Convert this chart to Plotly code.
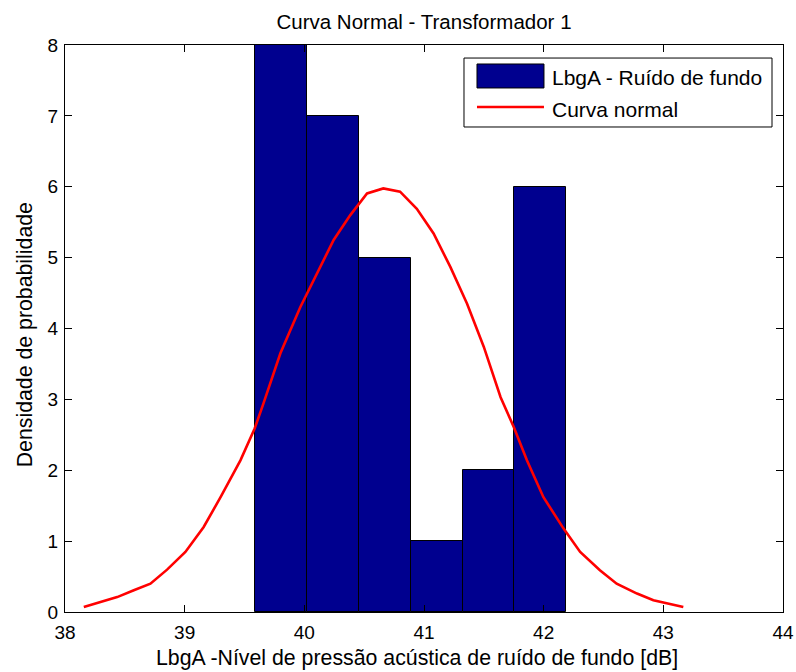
import plotly.graph_objects as go

# Histogram data (bin edges and counts)
bin_edges = [39.59, 40.025, 40.455, 40.89, 41.325, 41.755, 42.19]
counts = [8, 7, 5, 1, 2, 6]

# Normal curve points
curve_x = [38.157, 38.27, 38.436, 38.575, 38.714, 38.853, 39.006, 39.159, 39.30,
           39.466, 39.585, 39.66, 39.80, 39.966, 40.106, 40.245, 40.384, 40.524,
           40.66, 40.80, 40.94, 41.08, 41.22, 41.36, 41.50, 41.64, 41.75, 41.86,
           41.998, 42.165, 42.305, 42.47, 42.61, 42.78, 42.917, 43.056, 43.167]
curve_y = [0.07, 0.127, 0.21, 0.306, 0.40, 0.598, 0.847, 1.2, 1.62,
           2.14, 2.59, 2.95, 3.65, 4.30, 4.78, 5.25, 5.60, 5.905,
           5.976, 5.93, 5.69, 5.34, 4.87, 4.35, 3.74, 3.03, 2.61, 2.14,
           1.62, 1.18, 0.847, 0.589, 0.40, 0.26, 0.165, 0.118, 0.07]

title_text = "Curva Normal - Transformador 1"
x_label = "LbgA -Nível de pressão acústica de ruído de fundo [dB]"
y_label = "Densidade de probabilidade"
legend_labels = ["LbgA - Ruído de fundo", "Curva normal"]
x_ticks = [38, 39, 40, 41, 42, 43, 44]
y_ticks = [0, 1, 2, 3, 4, 5, 6, 7, 8]

bar_color = "#00008F"
line_color = "#FF0000"
FONT = "Arial, Liberation Sans, sans-serif"
TITLE = 20.5
LAB = 21.3
LEG = 21
TICK = 19

centers = [(bin_edges[i] + bin_edges[i + 1]) / 2 for i in range(len(counts))]
widths = [bin_edges[i + 1] - bin_edges[i] for i in range(len(counts))]

fig = go.Figure()
fig.add_trace(go.Bar(x=centers, y=counts, width=widths, name=legend_labels[0],
                     marker=dict(color=bar_color, line=dict(color="#000000", width=1)),
                     showlegend=False))
fig.add_trace(go.Scatter(x=curve_x, y=curve_y, mode="lines", name=legend_labels[1],
                         line=dict(color=line_color, width=2.6), showlegend=False))

axis_common = dict(showgrid=False, zeroline=False, showline=True, linecolor="#000000",
                   linewidth=1, mirror="ticks", ticks="inside", ticklen=7,
                   tickcolor="#000000", automargin=False,
                   tickfont=dict(family=FONT, size=TICK, color="#000000"))

fig.update_xaxes(range=[38, 44], tickvals=x_ticks, ticklabelstandoff=3, **axis_common)
fig.update_yaxes(range=[0, 8], tickvals=y_ticks, ticklabelstandoff=2, **axis_common)

# Manual MATLAB-style legend (paper coordinates)
L, R, T, B = 0.5557, 0.9847, 0.977, 0.8554
shapes = [
    dict(type="rect", xref="paper", yref="paper", x0=L, x1=R, y0=B, y1=T,
         line=dict(color="#000000", width=1), fillcolor="#FFFFFF", layer="above"),
    dict(type="rect", xref="paper", yref="paper", x0=0.5738, x1=0.6671, y0=0.9242, y1=0.9665,
         line=dict(color="#000000", width=1), fillcolor=bar_color, layer="above"),
    dict(type="line", xref="paper", yref="paper", x0=0.5738, x1=0.6671, y0=0.8907, y1=0.8907,
         line=dict(color=line_color, width=2.6), layer="above"),
]
annotations = [
    dict(xref="paper", yref="paper", x=0.676, y=0.942, text=legend_labels[0], showarrow=False,
         xanchor="left", yanchor="middle", font=dict(family=FONT, size=LEG, color="#000000")),
    dict(xref="paper", yref="paper", x=0.676, y=0.886, text=legend_labels[1], showarrow=False,
         xanchor="left", yanchor="middle", font=dict(family=FONT, size=LEG, color="#000000")),
    dict(xref="paper", yref="paper", x=0.49, y=0, yshift=-46, text=x_label, showarrow=False,
         xanchor="center", yanchor="middle", font=dict(family=FONT, size=LAB, color="#000000")),
    dict(xref="paper", yref="paper", x=0, xshift=-40, y=0.488, text=y_label, showarrow=False,
         textangle=-90, xanchor="center", yanchor="middle",
         font=dict(family=FONT, size=LAB, color="#000000")),
]

fig.update_layout(
    width=796, height=672,
    margin=dict(l=65, r=13, t=45, b=60),
    paper_bgcolor="#FFFFFF", plot_bgcolor="#FFFFFF",
    title=dict(text=title_text, x=0.5, xanchor="center", y=1 - 22 / 672, yanchor="middle",
               xref="paper", font=dict(family=FONT, size=TITLE, color="#000000")),
    shapes=shapes, annotations=annotations,
    bargap=0, showlegend=False,
)

fig.write_html("out.html", config={"displayModeBar": False},
               post_script="document.body.style.margin='0px';")
